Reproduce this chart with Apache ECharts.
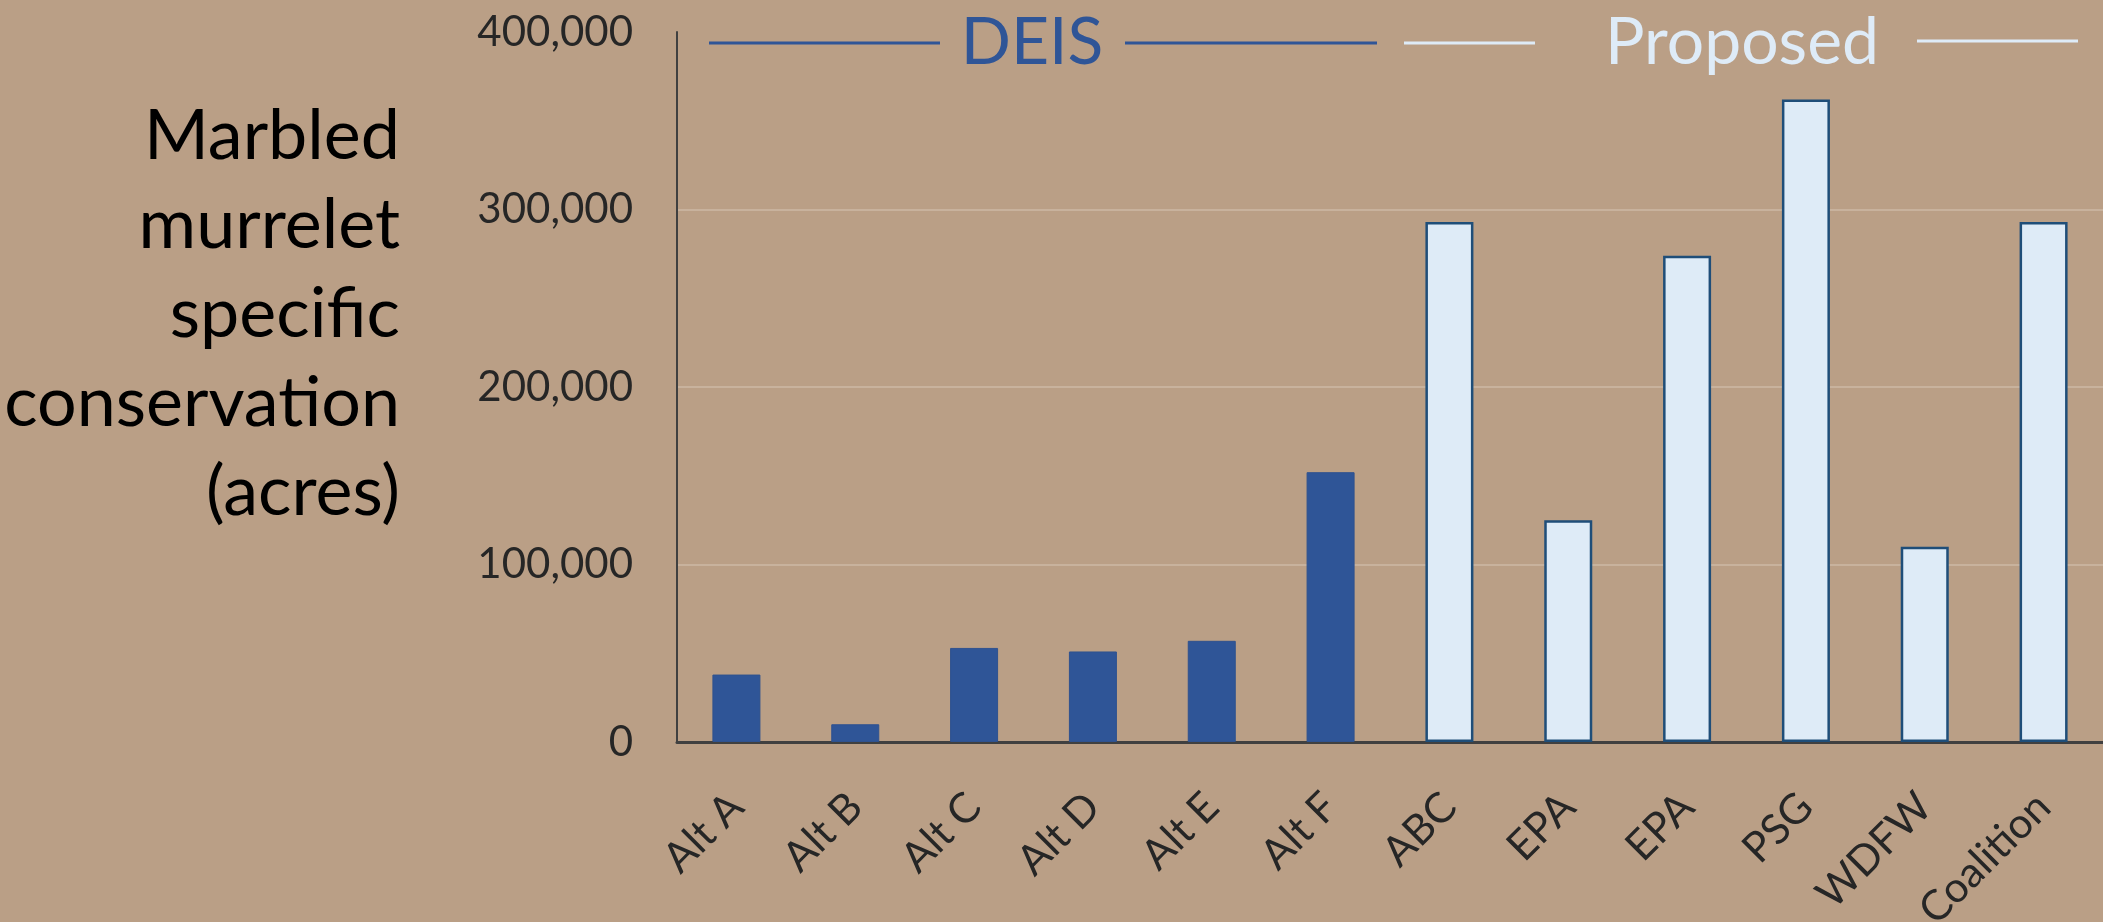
<!DOCTYPE html>
<html>
<head>
<meta charset="utf-8">
<script src="https://cdn.jsdelivr.net/npm/echarts@6/dist/echarts.min.js"></script>
<style>
  html, body { margin: 0; padding: 0; background: #BA9F86; }
  #chart { width: 2103px; height: 922px; }
</style>
</head>
<body>
<div id="chart"></div>
<script>
const categories = ['Alt A', 'Alt B', 'Alt C', 'Alt D', 'Alt E', 'Alt F', 'ABC', 'EPA', 'EPA', 'PSG', 'WDFW', 'Coalition'];
const deisValues = [38000, 10000, 53000, 51000, 57000, 152000, '-', '-', '-', '-', '-', '-'];
const proposedValues = ['-', '-', '-', '-', '-', '-', 293000, 125000, 274000, 362000, 110000, 293000];
const yTicks = [0, 100000, 200000, 300000, 400000];
const titleLines = ['Marbled', 'murrelet', 'specific', 'conservation', '(acres)'];

const FONT = 'Lato, "Open Sans", sans-serif';
const DEIS_BLUE = '#2F5597';
const LIGHT_BLUE = '#DEEBF7';

const chart = echarts.init(document.getElementById('chart'));

const option = {
    backgroundColor: '#BA9F86',
    animation: false,
    grid: { left: 677, right: 0, top: 32, bottom: 180, containLabel: false, outerBoundsMode: 'none' },
    xAxis: {
        type: 'category',
        data: categories,
        axisLine: { show: true, lineStyle: { color: '#404040', width: 3 } },
        axisTick: { show: false },
        axisLabel: {
            interval: 0,
            rotate: 45,
            margin: 58,
            fontFamily: FONT,
            fontSize: 42,
            color: '#262626'
        }
    },
    yAxis: {
        type: 'value',
        min: yTicks[0],
        max: yTicks[yTicks.length - 1],
        interval: yTicks[1] - yTicks[0],
        axisLine: { show: true, lineStyle: { color: '#404040', width: 2 } },
        axisTick: { show: false },
        splitLine: {
            show: true,
            showMaxLine: false,
            lineStyle: { color: '#C8B29D', width: 2 }
        },
        axisLabel: {
            margin: 44,
            fontFamily: FONT,
            fontSize: 42,
            color: '#262626',
            formatter: (v) => v.toLocaleString('en-US')
        }
    },
    series: [
        {
            name: 'DEIS',
            type: 'bar',
            stack: 'all',
            barWidth: 48,
            data: deisValues,
            itemStyle: { color: DEIS_BLUE, borderColor: '#2F528F', borderWidth: 1 }
        },
        {
            name: 'Proposed',
            type: 'bar',
            stack: 'all',
            barWidth: 48,
            data: proposedValues,
            itemStyle: { color: LIGHT_BLUE, borderColor: '#1F4E79', borderWidth: 2.5 }
        }
    ],
    graphic: [
        // left title
        {
            type: 'text',
            x: 400,
            y: 92,
            style: {
                text: titleLines.join('\n'),
                align: 'right',
                verticalAlign: 'top',
                lineHeight: 89,
                font: '70px ' + FONT,
                fill: '#000000'
            }
        },
        // header "DEIS"
        { type: 'line', shape: { x1: 709, y1: 43, x2: 940, y2: 43 }, style: { stroke: DEIS_BLUE, lineWidth: 3 } },
        { type: 'line', shape: { x1: 1125, y1: 43, x2: 1377, y2: 43 }, style: { stroke: DEIS_BLUE, lineWidth: 3 } },
        {
            type: 'text', x: 1032, y: 43,
            style: { text: 'DEIS', align: 'center', verticalAlign: 'middle', font: '66px ' + FONT, fill: DEIS_BLUE }
        },
        // header "Proposed"
        { type: 'line', shape: { x1: 1404, y1: 43, x2: 1535, y2: 43 }, style: { stroke: LIGHT_BLUE, lineWidth: 3 } },
        { type: 'line', shape: { x1: 1917, y1: 41, x2: 2078, y2: 41 }, style: { stroke: LIGHT_BLUE, lineWidth: 3 } },
        {
            type: 'text', x: 1742, y: 43,
            style: { text: 'Proposed', align: 'center', verticalAlign: 'middle', font: '66px ' + FONT, fill: LIGHT_BLUE }
        }
    ]
};

chart.setOption(option);
</script>
</body>
</html>
